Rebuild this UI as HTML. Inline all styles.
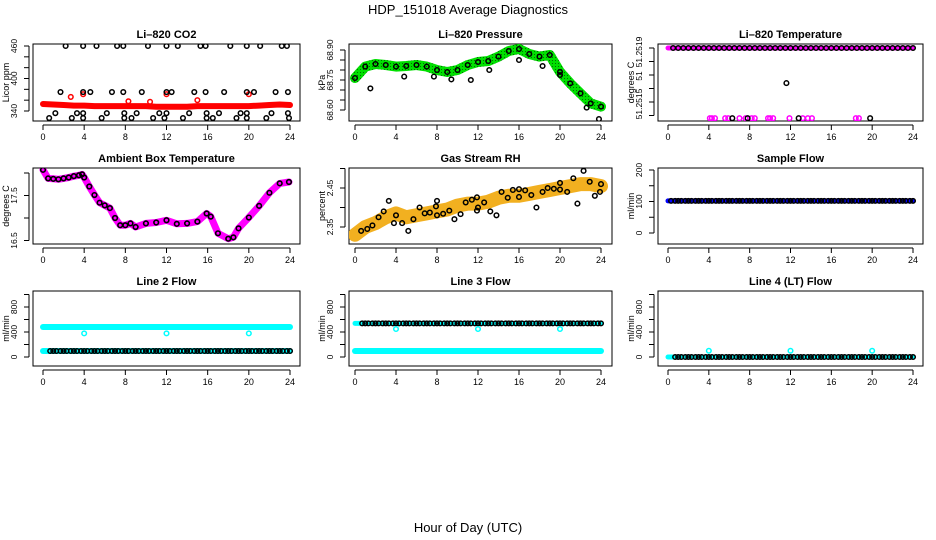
<!DOCTYPE html>
<html><head><meta charset="utf-8"><style>
body{margin:0;background:#fff;}
svg{display:block;font-family:"Liberation Sans",sans-serif;}
</style></head><body>
<svg id="chart" width="936" height="540" viewBox="0 0 936 540" xmlns="http://www.w3.org/2000/svg">
<defs>
<pattern id="greenTex" width="3" height="3" patternUnits="userSpaceOnUse"><rect width="3" height="3" fill="#00e000"/><rect width="1" height="1" fill="#007000"/></pattern>
</defs>
<text x="468" y="14" font-size="13" text-anchor="middle">HDP_151018  Average Diagnostics</text>
<text x="468" y="532" font-size="13" text-anchor="middle">Hour of Day (UTC)</text>
</svg>
<script>
// ---- data ----
const xTicks = [0,4,8,12,16,20,24];
// CO2
const co2RedHours = [0,1,2,3,4,5,6,7,8,9,10,11,12,13,14,15,16,17,18,19,20,21,22,23,24];
const co2RedVals = [353,352,351,350,350,349,349,349,349,349,349,348,348,348,348,349,349,349,349,349,349,350,351,352,351];
const co2RedOutHours = [2.7,3.9,8.3,10.4,12,15,20];
const co2RedOutVals = [366,371,358,357,371,360,371];
const co2BlkHours = [2.2,3.9,5.2,7.2,7.8,10.2,12,13.1,15.3,15.8,18.2,19.8,21.1,23.2,23.7,
 1.7,3.9,4.6,6.7,7.8,9.6,12,12.5,14.7,15.8,17.6,19.8,20.5,22.6,23.8,
 1.2,3.3,3.9,6.2,7.9,9.1,11.3,12,14.2,15.9,17.1,19.2,19.8,22.2,23.8,
 0.6,2.8,3.9,5.7,7.9,8.6,10.7,11.8,13.6,15.9,16.5,18.8,19.8,21.7,23.9];
const co2BlkVals = [460,460,460,460,460,460,460,460,460,460,460,460,460,460,460,
 375,375,375,375,375,375,375,375,375,375,375,375,375,375,375,
 336,336,336,336,336,336,336,336,336,336,336,336,336,336,336,
 327,327,327,327,327,327,327,327,327,327,327,327,327,327,327];
// Pressure
const presHours = [0,1,2,3,4,5,6,7,8,9,10,11,12,13,14,15,16,17,18,19,20,21,22,23,24];
const presVals = [68.76,68.817,68.83,68.825,68.817,68.82,68.825,68.817,68.80,68.79,68.80,68.825,68.84,68.845,68.867,68.895,68.905,68.88,68.867,68.875,68.79,68.733,68.683,68.633,68.617];
const presOutHours = [1.5,4.8,7.7,9.4,11.3,13.1,16,18.3,20,22.6,23.8];
const presOutVals = [68.708,68.767,68.767,68.753,68.75,68.80,68.85,68.82,68.775,68.612,68.555];
// Li-820 temperature
const tempTopHours = [0.5,1,1.5,2,2.5,3,3.5,4,4.5,5,5.5,6,6.5,7,7.5,8,8.5,9,9.5,10,10.5,11,11.5,12,12.5,13,13.5,14,14.5,15,15.5,16,16.5,17,17.5,18,18.5,19,19.5,20,20.5,21,21.5,22,22.5,23,23.5,24];
const tempTopVal = 51.2519;
const tempLowMagHours = [4.1,4.3,4.6,5.6,5.9,7.0,7.6,8.2,8.5,9.8,10.0,10.3,11.9,13.2,13.7,14.1,18.4,18.7];
const tempLowBlkHours = [6.3,7.8,12.8,19.8];
const tempLowVal = 51.25138;
const tempMidHours = [11.6];
const tempMidVals = [51.25164];
// Ambient box
const ambHours = [0,0.5,1,1.5,2,2.5,3,3.5,3.8,4,4.5,5,5.5,6,6.5,7,7.5,8,8.5,9,10,11,12,13,14,15,15.9,16.3,17,18,18.5,19,20,21,22,23,23.9];
const ambVals = [18.07,17.88,17.87,17.86,17.88,17.9,17.93,17.95,17.97,17.9,17.7,17.51,17.34,17.28,17.22,17.0,16.84,16.84,16.88,16.8,16.88,16.90,16.95,16.87,16.88,16.92,17.1,17.03,16.66,16.54,16.57,16.77,17.01,17.27,17.56,17.77,17.8];
// RH
const rhBandHours = [0,1,2,3,4,5,6,7,8,9,10,11,12,13,14,15,16,17,18,19,20,21,22,23,24];
const rhBandVals = [2.33,2.35,2.36,2.375,2.385,2.375,2.38,2.385,2.39,2.395,2.405,2.41,2.41,2.415,2.425,2.43,2.43,2.435,2.44,2.445,2.45,2.455,2.46,2.46,2.455];
const rhPtHours = [0.6,1.2,1.7,2.3,2.8,3.3,4,3.8,4.6,5.2,5.7,6.3,6.8,7.3,7.9,8,8,8.6,9.2,9.7,10.3,10.8,11.4,11.9,11.9,12,12.6,13.2,13.8,14.3,14.9,15.4,16,16,16.6,17.2,17.7,18.3,18.8,19.4,20,20,20.7,21.3,21.7,22.3,22.9,23.4,23.9,24];
const rhPtVals = [2.34,2.345,2.354,2.375,2.39,2.417,2.38,2.36,2.36,2.34,2.37,2.40,2.385,2.387,2.403,2.38,2.417,2.384,2.392,2.37,2.383,2.413,2.42,2.392,2.426,2.40,2.413,2.39,2.38,2.44,2.425,2.445,2.427,2.447,2.444,2.432,2.40,2.44,2.45,2.448,2.463,2.446,2.44,2.475,2.41,2.494,2.466,2.43,2.44,2.46];
// Flows
const flowHours = [0.3,0.7,1,1.3,1.7,2,2.3,2.7,3,3.3,3.7,4,4.3,4.7,5,5.3,5.7,6,6.3,6.7,7,7.3,7.7,8,8.3,8.7,9,9.3,9.7,10,10.3,10.7,11,11.3,11.7,12,12.3,12.7,13,13.3,13.7,14,14.3,14.7,15,15.3,15.7,16,16.3,16.7,17,17.3,17.7,18,18.3,18.7,19,19.3,19.7,20,20.3,20.7,21,21.3,21.7,22,22.3,22.7,23,23.3,23.7,24];
const sampleFlowVal = 102;
const line2High = 480, line2Low = 96, line2Out = 378;
const line3High = 538, line3Low = 96, line3Out = 448;
const line4Base = 0, line4Out = 100;
const outHours = [4,12,20];

// ---- drawing ----
const NS = "http://www.w3.org/2000/svg";
const svg = document.getElementById('chart');
function mk(tag, attrs, parent){ const e=document.createElementNS(NS,tag); for(const k in attrs) e.setAttribute(k,attrs[k]); (parent||svg).appendChild(e); return e; }
function lin(d0,d1,r0,r1){ return v => r0 + (v-d0)*(r1-r0)/(d1-d0); }

function panel(o){
  const g = mk('g',{});
  
  
  const x = lin(0,24,o.x0,o.x24);
  const y = lin(o.yv0,o.yv1,o.yp0,o.yp1);
  const t = mk('text',{x:(o.l+o.r)/2,y:o.t-6,'font-size':11,'font-weight':'bold','text-anchor':'middle'},g);
  t.textContent = o.title;
  
  
  const box = mk('rect',{x:o.l,y:o.t,width:o.r-o.l,height:o.b-o.t,fill:'none',stroke:'#000','stroke-width':1},g);
  
  
  const xa = mk('g',{},g);
  
  
  mk('line',{x1:x(0),x2:x(24),y1:o.b+4,y2:o.b+4,stroke:'#000'},xa);
  xTicks.forEach(h=>{
    mk('line',{x1:x(h),x2:x(h),y1:o.b+4,y2:o.b+9,stroke:'#000'},xa);
    const tl = mk('text',{x:x(h),y:o.b+19,'font-size':9,'text-anchor':'middle'},xa);
    tl.textContent = h;
  });
  const ya = mk('g',{},g);
  
  
  const ax = o.l-4;
  mk('line',{x1:ax,x2:ax,y1:y(o.yticks[0]),y2:y(o.yticks[o.yticks.length-1]),stroke:'#000'},ya);
  o.yticks.forEach(v=> mk('line',{x1:ax-5,x2:ax,y1:y(v),y2:y(v),stroke:'#000'},ya));
  o.ylabels.forEach(([v,s])=>{
    const yy = (typeof v==='string') ? parseFloat(v) : y(v);
    const tl = mk('text',{x:0,y:0,'font-size':8.5,'text-anchor':'middle',transform:`translate(${ax-12},${yy}) rotate(-90)`},ya);
    tl.textContent = s;
  });
  const yl = mk('text',{x:0,y:0,'font-size':9,'text-anchor':'middle',transform:`translate(${o.l-24},${(o.t+o.b)/2}) rotate(-90)`},g);
  yl.textContent = o.ylab;
  
  
  const clip = 'c'+Math.round(o.l)+'_'+Math.round(o.t);
  const cp = mk('clipPath',{id:clip},g); mk('rect',{x:o.l,y:o.t,width:o.r-o.l,height:o.b-o.t},cp);
  const pg = mk('g',{'clip-path':`url(#${clip})`},g);
  return {g:pg,x,y};
}
function pts(P,hs,vs,color,name,sw){
  const gg = mk('g',{},P.g);
  
  
  hs.forEach((h,i)=>{
    const v = Array.isArray(vs)?vs[i]:vs;
    mk('circle',{cx:P.x(h),cy:P.y(v),r:2.3,fill:'none',stroke:color,'stroke-width':sw||1.5},gg);
  });
}
function band(P,hs,vs,color,w,name){
  const d = hs.map((h,i)=>P.x(h).toFixed(1)+','+P.y(Array.isArray(vs)?vs[i]:vs).toFixed(1)).join(' ');
  const pl = mk('polyline',{points:d,fill:'none',stroke:color,'stroke-width':w,'stroke-linejoin':'round','stroke-linecap':'round'},P.g);
  
  
}

const C1={l:33,r:300,x0:43,x24:290}, C2={l:349,r:612,x0:355,x24:601}, C3={l:658,r:923,x0:668,x24:913};
const R1={t:44,b:121}, R2={t:168,b:244}, R3={t:291,b:366};

// Panel 1 CO2
let P = panel({name:'co2-panel',title:'Li\u2013820 CO2',ylab:'Licor ppm',...C1,...R1,yv0:340,yv1:460,yp0:111,yp1:46,
  yticks:[340,360,380,400,420,440,460],ylabels:[[340,'340'],[400,'400'],[460,'460']]});
band(P,co2RedHours,co2RedVals,'#f00',6,'co2-red-band');
pts(P,co2RedOutHours,co2RedOutVals,'#f00','co2-red-outliers');
pts(P,co2BlkHours,co2BlkVals,'#000','co2-black-points');

// Panel 2 Pressure
P = panel({name:'pressure-panel',title:'Li\u2013820 Pressure',ylab:'kPa',...C2,...R1,yv0:68.6,yv1:68.9,yp0:110,yp1:50,
  yticks:[68.6,68.65,68.7,68.75,68.8,68.85,68.9],ylabels:[[68.6,'68.60'],[68.75,'68.75'],[68.9,'68.90']]});
band(P,presHours,presVals,'url(#greenTex)',10,'pressure-green-band');
pts(P,presHours,presVals,'#000','pressure-black-points');
pts(P,presOutHours,presOutVals,'#000','pressure-outliers');

// Panel 3 Li-820 temperature
P = panel({name:'li820-temperature-panel',title:'Li\u2013820 Temperature',ylab:'degrees C',...C3,...R1,yv0:51.2515,yv1:51.2519,yp0:102,yp1:48,
  yticks:[51.2519,51.25180,51.2517,51.2516,51.2515,51.2514],
  ylabels:[['52','51.2519'],['76','51'],['104','51.2515']]});
band(P,[0,24],[tempTopVal,tempTopVal],'#f0f',5,'temp-magenta-top');
pts(P,tempTopHours,tempTopVal,'#000','temp-black-top');
pts(P,tempLowMagHours,tempLowVal,'#f0f','temp-magenta-low');
pts(P,tempLowBlkHours,tempLowVal,'#000','temp-black-low');
pts(P,tempMidHours,tempMidVals,'#000','temp-mid-point');

// Panel 4 Ambient
P = panel({name:'ambient-temperature-panel',title:'Ambient Box Temperature',ylab:'degrees C',...C1,...R2,yv0:16.5,yv1:18,yp0:240.5,yp1:173,
  yticks:[16.5,17,17.5,18],ylabels:[[16.5,'16.5'],[17.5,'17.5']]});
band(P,ambHours,ambVals,'#f0f',7,'ambient-magenta-line');
pts(P,ambHours,ambVals,'#000','ambient-black-points',1.6);

// Panel 5 RH
P = panel({name:'rh-panel',title:'Gas Stream RH',ylab:'percent',...C2,...R2,yv0:2.35,yv1:2.45,yp0:227,yp1:188,
  yticks:[2.35,2.4,2.45,2.5],ylabels:[[2.35,'2.35'],[2.45,'2.45']]});
band(P,rhBandHours,rhBandVals,'#f2b020',14,'rh-orange-band');
pts(P,rhPtHours,rhPtVals,'#000','rh-black-points');

// Panel 6 Sample flow
P = panel({name:'sample-flow-panel',title:'Sample Flow',ylab:'ml/min',...C3,...R2,yv0:0,yv1:200,yp0:233,yp1:170,
  yticks:[0,50,100,150,200],ylabels:[[0,'0'],[100,'100'],[200,'200']]});
band(P,[0,24],[sampleFlowVal,sampleFlowVal],'#0000ff',5,'sample-flow-blue-band');
pts(P,flowHours,sampleFlowVal,'#000','sample-flow-black-points');

const flowTicks=[0,200,400,600,800,1000], flowLabels=[[0,'0'],[400,'400'],[800,'800']];
// Panel 7 Line 2
P = panel({name:'line2-flow-panel',title:'Line 2 Flow',ylab:'ml/min',...C1,...R3,yv0:0,yv1:800,yp0:357,yp1:307,yticks:flowTicks,ylabels:flowLabels});
band(P,[0,24],[line2High,line2High],'#0ff',6,'line2-cyan-high');
band(P,[0,24],[line2Low,line2Low],'#0ff',6,'line2-cyan-low');
pts(P,flowHours.slice(1),line2Low,'#000','line2-black-points');
pts(P,outHours,line2Out,'#0ff','line2-cyan-outliers');

// Panel 8 Line 3
P = panel({name:'line3-flow-panel',title:'Line 3 Flow',ylab:'ml/min',...C2,...R3,yv0:0,yv1:800,yp0:357,yp1:307,yticks:flowTicks,ylabels:flowLabels});
band(P,[0,24],[line3Low,line3Low],'#0ff',6,'line3-cyan-low');
band(P,[0,24],[line3High,line3High],'#0ff',5,'line3-cyan-high');
pts(P,flowHours.slice(1),line3High,'#000','line3-black-points');
pts(P,outHours,line3Out,'#0ff','line3-cyan-outliers');

// Panel 9 Line 4
P = panel({name:'line4-flow-panel',title:'Line 4 (LT) Flow',ylab:'ml/min',...C3,...R3,yv0:0,yv1:800,yp0:357,yp1:307,yticks:flowTicks,ylabels:flowLabels});
band(P,[0,24],[line4Base,line4Base],'#0ff',5,'line4-cyan-band');
pts(P,flowHours.slice(1),line4Base,'#000','line4-black-points');
pts(P,outHours,line4Out,'#0ff','line4-cyan-outliers');
</script>
</body></html>
